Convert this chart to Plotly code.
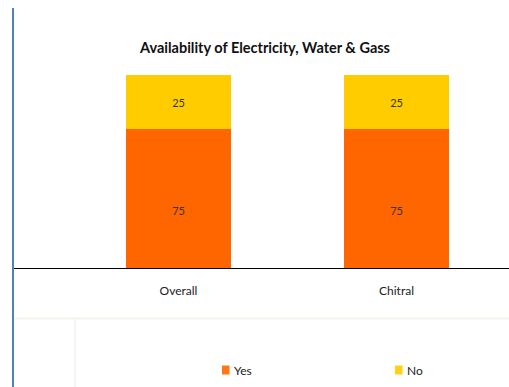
import plotly.graph_objects as go

categories = ["Overall", "Chitral"]
yes_values = [75, 75]
no_values = [25, 25]
series_names = ["Yes", "No"]
series_colors = ["#ff6600", "#ffcc00"]

W, H = 509, 387
L, R, T, B = 13, 0, 65, 119
plot_w = W - L - R
plot_h = H - T - B

FONT = "Lato"

fig = go.Figure()
for name, vals, col in zip(series_names, [yes_values, no_values], series_colors):
    fig.add_trace(go.Bar(
        x=categories, y=vals, name=name,
        marker=dict(color=col, line=dict(width=0)),
        text=vals, textposition="inside", insidetextanchor="middle",
        textfont=dict(family=FONT, size=11, color="#333333"),
        width=0.482, showlegend=False,
    ))

def px_x(p):
    return (p - L) / plot_w

def px_y(p):
    return (H - B - p) / plot_h

shapes = [
    # light frame of the legend panel
    dict(type="line", xref="paper", yref="paper",
         x0=px_x(13), x1=px_x(509), y0=px_y(318.5), y1=px_y(318.5),
         line=dict(color="#f4f3ee", width=2)),
    dict(type="line", xref="paper", yref="paper",
         x0=px_x(75), x1=px_x(75), y0=px_y(319), y1=px_y(387),
         line=dict(color="#f4f4f4", width=2)),
    # left blue rule
    dict(type="line", xref="paper", yref="paper",
         x0=px_x(13), x1=px_x(13), y0=px_y(8), y1=px_y(387),
         line=dict(color="#4f81bd", width=2)),
]

# legend: small colour key followed by the series name
annotations = []
legend_x = [222, 395]
for name, col, lx in zip(series_names, series_colors, legend_x):
    shapes.append(dict(type="rect", xref="paper", yref="paper",
                       x0=px_x(lx), x1=px_x(lx + 7.5),
                       y0=px_y(374.5), y1=px_y(365.5),
                       line=dict(width=0), fillcolor=col, opacity=0.9))
    annotations.append(dict(text=name, xref="paper", yref="paper",
                            x=px_x(lx + 9.5), y=px_y(370), xanchor="left",
                            yanchor="middle", showarrow=False,
                            font=dict(family=FONT, size=12, color="#222222")))

fig.update_layout(
    width=W, height=H,
    margin=dict(l=L, r=R, t=T, b=B, pad=0, autoexpand=False),
    barmode="stack",
    paper_bgcolor="white", plot_bgcolor="white",
    font=dict(family=FONT, size=11, color="#222222"),
    title=dict(text="<b>Availability of Electricity, Water & Gass</b>",
               x=265 / W, xanchor="center", y=1 - 48 / H, yanchor="middle",
               font=dict(family=FONT, size=14.5, color="#111111")),
    xaxis=dict(range=[-(178.5 - L) / 218, 1 + (509 - 396.5) / 218],
               showline=True, linecolor="black", linewidth=1,
               showgrid=False, ticks="", tickfont=dict(size=12, color="#222222"),
               ticklabelstandoff=12),
    yaxis=dict(range=[10.65, 104.63], visible=False, showgrid=False),
    showlegend=False,
    shapes=shapes,
    annotations=annotations,
    bargap=0,
)

fig.write_html("out.html")
